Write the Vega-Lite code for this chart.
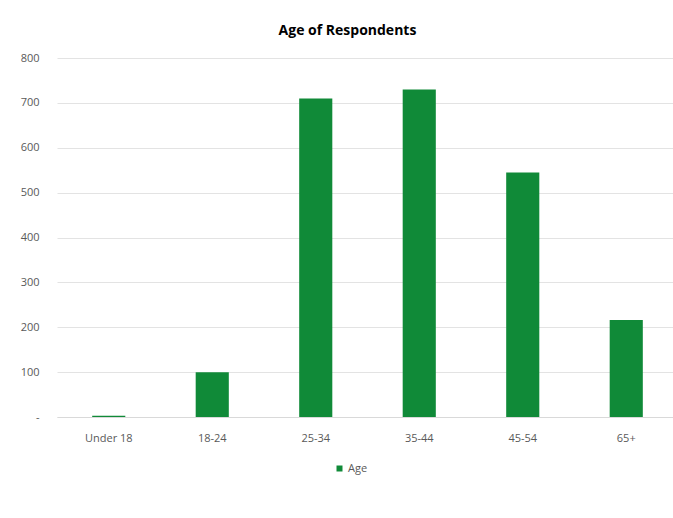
{
  "$schema": "https://vega.github.io/schema/vega-lite/v6.json",
  "autosize": "none",
  "width": 621,
  "height": 359,
  "padding": {"left": 57, "top": 58, "right": 0, "bottom": 101},
  "background": "white",
  "title": {
    "text": "Age of Respondents",
    "font": "Open Sans",
    "fontSize": 14,
    "fontWeight": "bold",
    "color": "#000000",
    "anchor": "middle",
    "dx": -20,
    "offset": 14
  },
  "data": {
    "values": [
      {"group": "Under 18", "count": 3},
      {"group": "18-24", "count": 100},
      {"group": "25-34", "count": 710},
      {"group": "35-44", "count": 730},
      {"group": "45-54", "count": 545},
      {"group": "65+", "count": 216}
    ]
  },
  "mark": {"type": "bar"},
  "encoding": {
    "x": {
      "field": "group",
      "type": "nominal",
      "sort": null,
      "scale": {"paddingInner": 0.68, "paddingOuter": 0.34},
      "axis": {
        "title": null,
        "labelAngle": 0,
        "labelFont": "Open Sans",
        "labelFontSize": 11,
        "labelColor": "#595959",
        "labelPadding": 15,
        "ticks": false,
        "domainColor": "#d9d9d9",
        "domainWidth": 1
      }
    },
    "y": {
      "field": "count",
      "type": "quantitative",
      "scale": {"domain": [0, 800], "nice": false},
      "axis": {
        "title": null,
        "values": [0, 100, 200, 300, 400, 500, 600, 700, 800],
        "labelExpr": "datum.value == 0 ? '-' : datum.label",
        "labelFont": "Open Sans",
        "labelFontSize": 11,
        "labelColor": "#595959",
        "labelPadding": 18,
        "ticks": false,
        "domain": false,
        "grid": true,
        "gridColor": "#e3e3e3",
        "gridWidth": 1
      }
    },
    "color": {
      "datum": "Age",
      "type": "nominal",
      "scale": {"range": ["#108a38"]},
      "legend": {
        "title": null,
        "orient": "none",
        "legendX": 277,
        "legendY": 405,
        "symbolType": "square",
        "symbolSize": 36,
        "labelFont": "Open Sans",
        "labelFontSize": 11,
        "labelColor": "#595959",
        "labelOffset": 3
      }
    }
  },
  "config": {"view": {"stroke": null}}
}
